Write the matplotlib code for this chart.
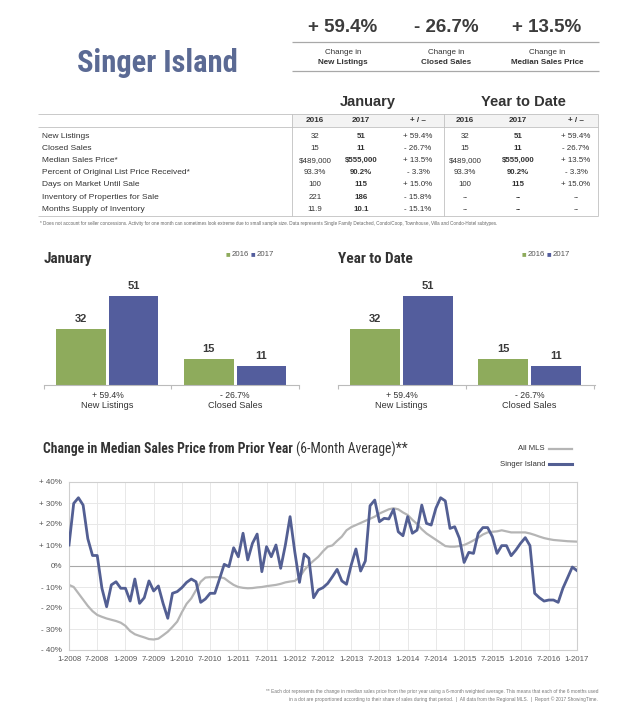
import matplotlib
matplotlib.use("Agg")
import matplotlib.pyplot as plt
from matplotlib.patches import Rectangle
from matplotlib import font_manager as fm

# ---------------- data ----------------
kpi_values = ["+ 59.4%", "- 26.7%", "+ 13.5%"]
kpi_labels = ["New Listings", "Closed Sales", "Median Sales Price"]

row_labels = ["New Listings", "Closed Sales", "Median Sales Price*",
              "Percent of Original List Price Received*", "Days on Market Until Sale",
              "Inventory of Properties for Sale", "Months Supply of Inventory"]
col_headers = ["2016", "2017", "+ / \u2013", "2016", "2017", "+ / \u2013"]
table_rows = [
    ["32", "51", "+ 59.4%", "32", "51", "+ 59.4%"],
    ["15", "11", "- 26.7%", "15", "11", "- 26.7%"],
    ["$489,000", "$555,000", "+ 13.5%", "$489,000", "$555,000", "+ 13.5%"],
    ["93.3%", "90.2%", "- 3.3%", "93.3%", "90.2%", "- 3.3%"],
    ["100", "115", "+ 15.0%", "100", "115", "+ 15.0%"],
    ["221", "186", "- 15.8%", "--", "--", "--"],
    ["11.9", "10.1", "- 15.1%", "--", "--", "--"],
]

bar_categories = ["New Listings", "Closed Sales"]
bar_changes = ["+ 59.4%", "- 26.7%"]
jan_2016 = [32, 15]
jan_2017 = [51, 11]
ytd_2016 = [32, 15]
ytd_2017 = [51, 11]

singer_island = [10, 29.8, 32.5, 29, 13, 5, 5, -10.6, -19.4, -9, -7.5, -10.6,
                 -10.6, -16.7, -6.2, -17.8, -15.1, -7.1, -11.9, -9.5, -17.8, -24.9, -13, -12.2,
                 -10.3, -7.8, -6.2, -7.5, -17.3, -15.7, -13, -13, -6.2, 0.8, -0.3, 8.7,
                 4.4, 15.6, 2.9, 10.8, 15.2, -2.7, 9.2, 4.4, 10, -1.1, 10, 23.5,
                 6.8, -7.8, 5.7, 3.7, -15.1, -11.4, -10.3, -8.3, -5.1, -1.6, -7.1, -8.7,
                 0.5, 8.1, -2.4, 2.4, 28.7, 31.4, 21.1, 22.7, 22.4, 27, 16.3, 14.4,
                 23.5, 15.6, 17.1, 29, 20.3, 19.5, 27.5, 32.5, 31, 17.9, 18.7, 13.2,
                 1.7, 6.5, 6, 15.6, 18.3, 18.3, 14, 6, 9.7, 9.7, 4.9, 7.6,
                 10.8, 13.5, 9.7, -13, -15.1, -16.7, -16.2, -16.2, -17.3, -10.6, -5.6, -0.5,
                 -2.2]
all_mls = [-9, -10, -13, -16, -19, -21.5, -23.3, -24.2, -25, -25.6, -26.2, -27,
           -28.5, -31, -32.5, -33.3, -34, -34.8, -35, -34.6, -33, -31.3, -29, -26.5,
           -22, -18, -15.4, -11.5, -7.5, -5.5, -5.3, -5.3, -5.3, -5.8, -7.5, -9,
           -10, -10.4, -10.6, -10.5, -10.2, -10, -9.6, -9.3, -9, -8.5, -7.8, -7.4,
           -7.1, -5.5, -2, 0.5, 2.5, 4.4, 7, 9.2, 9.8, 12, 14, 17,
           18.5, 19.5, 20.5, 21.5, 22.5, 23.5, 25, 26, 27, 27.5, 27, 25.5,
           24.3, 22, 20, 17.5, 15.5, 14, 12.5, 11, 9.5, 9.2, 9.2, 9.5,
           10, 11, 12.2, 13.5, 15, 16, 16.3, 16.5, 17, 16.5, 16, 16,
           16, 16, 15.5, 14.8, 14, 13.3, 12.8, 12.4, 12.2, 12, 11.8, 11.7,
           11.6]
x_tick_labels = ["1-2008", "7-2008", "1-2009", "7-2009", "1-2010", "7-2010", "1-2011",
                 "7-2011", "1-2012", "7-2012", "1-2013", "7-2013", "1-2014", "7-2014",
                 "1-2015", "7-2015", "1-2016", "7-2016", "1-2017"]
y_tick_values = [-40, -30, -20, -10, 0, 10, 20, 30, 40]
y_tick_labels = ["- 40%", "- 30%", "- 20%", "- 10%", "0%", "+ 10%", "+ 20%", "+ 30%", "+ 40%"]

# ---------------- fonts ----------------
W, H = 639, 718
SANS = ["Liberation Sans", "DejaVu Sans"]
plt.rcParams["font.family"] = SANS


def find_condensed(bold):
    prefs = ["liberation sans narrow", "roboto condensed", "dejavu sans condensed",
             "open sans condensed", "noto sans condensed", "arial narrow"]
    cands = []
    for f in fm.fontManager.ttflist:
        name = f.name.lower()
        fname = f.fname.lower()
        is_cond = ("narrow" in name or "condensed" in name or "narrow" in fname
                   or "condensed" in fname or str(f.stretch) in ("condensed", "semi-condensed"))
        if not is_cond:
            continue
        w = f.weight if isinstance(f.weight, int) else (700 if "bold" in str(f.weight) else 400)
        is_bold = w >= 600 or "bold" in fname
        if is_bold != bold:
            continue
        if f.style != "normal" or "italic" in fname or "oblique" in fname:
            continue
        rank = len(prefs)
        for i, p in enumerate(prefs):
            if p in name or p.replace(" ", "") in fname.replace("-", "").replace("_", ""):
                rank = i
                break
        cands.append((rank, f.fname))
    if cands:
        cands.sort()
        return fm.FontProperties(fname=cands[0][1])
    return None


cond_bold = find_condensed(True)
cond_reg = find_condensed(False)


def narrow_kw(bold, size):
    fp = cond_bold if bold else cond_reg
    if fp is not None:
        fp = fp.copy()
        fp.set_size(size)
        return {"fontproperties": fp}
    return {"family": SANS, "weight": "bold" if bold else "normal", "fontsize": size * 0.85}


TITLE_BLUE = "#5b6a94"
DARK = "#333333"
GREEN = "#8eab5c"
BLUE = "#535d9d"
LINE_BLUE = "#535f93"
LINE_GRAY = "#b5b5b5"

fig = plt.figure(figsize=(W / 100, H / 100), dpi=100)
fig.patch.set_facecolor("white")
bg = fig.add_axes([0, 0, 1, 1])
bg.set_xlim(0, W)
bg.set_ylim(H, 0)
bg.axis("off")


def px_rect(x0, x1, y0, y1):
    return [x0 / W, 1 - y1 / H, (x1 - x0) / W, (y1 - y0) / H]


def hline(y, x0, x1, color="#b0b0b0", lw=0.7):
    bg.plot([x0, x1], [y, y], color=color, lw=lw, solid_capstyle="butt")


def vline(x, y0, y1, color="#b0b0b0", lw=0.7):
    bg.plot([x, x], [y0, y1], color=color, lw=lw, solid_capstyle="butt")


# ---------------- header ----------------
bg.text(157, 63, "Singer Island", color=TITLE_BLUE, ha="center", va="center",
        **narrow_kw(True, 22))
kpi_x = [343, 446, 547]
for x, v, lab in zip(kpi_x, kpi_values, kpi_labels):
    bg.text(x, 27, v, fontsize=13.5, weight="bold", color="#3c3c3c", ha="center", va="center")
    bg.text(x, 52, "Change in", fontsize=5.8, color=DARK, ha="center", va="center")
    bg.text(x, 62, lab, fontsize=5.8, weight="bold", color=DARK, ha="center", va="center")
hline(42, 292, 599, color="#a8a8a8", lw=0.9)
hline(71, 292, 599, color="#a8a8a8", lw=0.9)

# ---------------- table ----------------
bg.text(368, 102, "January", fontsize=10.5, weight="bold", color=DARK, ha="center", va="center")
bg.text(523, 102, "Year to Date", fontsize=10.5, weight="bold", color=DARK, ha="center", va="center")
bg.add_patch(Rectangle((291.5, 114), 306.5, 13, facecolor="#f3f3f3", edgecolor="none"))
hline(114, 38, 598, color="#c0c0c0", lw=0.6)
hline(127, 38, 598, color="#c0c0c0", lw=0.6)
hline(216, 38, 598, color="#c0c0c0", lw=0.6)
for xv in (291.5, 443.5, 598):
    vline(xv, 114, 216, color="#c0c0c0", lw=0.6)
col_x = [315, 361, 418, 465, 518, 576]
for cx, h in zip(col_x, col_headers):
    bg.text(cx, 121, h, fontsize=5.9, weight="bold", color=DARK, ha="center", va="center")
row_y = [136, 148.3, 160.6, 172.8, 185, 197.3, 209.5]
for ry, lab, vals in zip(row_y, row_labels, table_rows):
    bg.text(42, ry, lab, fontsize=6.0, color=DARK, ha="left", va="center")
    for j, (cx, v) in enumerate(zip(col_x, vals)):
        bg.text(cx, ry, v, fontsize=5.7, color=DARK, ha="center", va="center",
                weight="bold" if j in (1, 4) else "normal")
bg.text(40, 224, "* Does not account for seller concessions. Activity for one month can sometimes look "
        "extreme due to small sample size. Data represents Single Family Detached, Condo/Coop, "
        "Townhouse, Villa and Condo-Hotel subtypes.", fontsize=3.3, color="#666666",
        ha="left", va="center")


# ---------------- bar charts ----------------
def bar_chart(x0, x1, title, v16, v17):
    base = 385
    top = 275
    ax = fig.add_axes(px_rect(x0, x1, top, base))
    ax.set_facecolor("none")
    unit = 129.0
    scale = 1.747
    ax.set_xlim(-(62.5 / unit), -(62.5 / unit) + (x1 - x0) / unit)
    ax.set_ylim(0, (base - top) / scale)
    pos = list(range(len(bar_categories)))
    off = 26.5 / unit
    bw = 50 / unit
    ax.bar([p - off for p in pos], v16, width=bw, color=GREEN)
    ax.bar([p + off for p in pos], v17, width=bw, color=BLUE)
    for p, a, b in zip(pos, v16, v17):
        ax.text(p - off, a + 3, str(a), ha="center", va="bottom", fontsize=8,
                weight="bold", color="#3a3a3a")
        ax.text(p + off, b + 3, str(b), ha="center", va="bottom", fontsize=8,
                weight="bold", color="#3a3a3a")
    for s in ("top", "right", "left"):
        ax.spines[s].set_visible(False)
    ax.spines["bottom"].set_color("#bbbbbb")
    ax.spines["bottom"].set_linewidth(0.8)
    ax.set_yticks([])
    ax.set_xticks([-0.5, 0.5, 1.5])
    ax.tick_params(axis="x", length=3, color="#bbbbbb", labelbottom=False)
    for p, ch, cat in zip(pos, bar_changes, bar_categories):
        ax.text(p, -0.10, ch, transform=ax.get_xaxis_transform(), ha="center", va="center",
                fontsize=6.2, color=DARK)
        ax.text(p, -0.19, cat, transform=ax.get_xaxis_transform(), ha="center", va="center",
                fontsize=6.6, color=DARK)
    bg.text(x0, 259, title, color=DARK, ha="left", va="center", **narrow_kw(True, 11))
    lx = x1 - 73
    bg.text(lx, 255, "\u25a0", fontsize=5.5, color=GREEN, ha="left", va="center")
    bg.text(lx + 5.5, 255, "2016", fontsize=5.6, color="#555555", ha="left", va="center")
    bg.text(lx + 25, 255, "\u25a0", fontsize=5.5, color=BLUE, ha="left", va="center")
    bg.text(lx + 30.5, 255, "2017", fontsize=5.6, color="#555555", ha="left", va="center")


bar_chart(43.5, 299, "January", jan_2016, jan_2017)
bar_chart(337.5, 595, "Year to Date", ytd_2016, ytd_2017)

# ---------------- line chart ----------------
t1 = bg.text(43, 449, "Change in Median Sales Price from Prior Year ", color=DARK,
             ha="left", va="center", **narrow_kw(True, 9.8))
fig.canvas.draw()
bb = t1.get_window_extent()
x_after = bb.x1 * W / fig.bbox.width
bg.text(x_after, 449, "(6-Month Average)**", color=DARK, ha="left", va="center",
        **narrow_kw(False, 9.8))
bg.text(545, 449, "All MLS", fontsize=5.6, color=DARK, ha="right", va="center")
bg.plot([549, 572], [449, 449], color=LINE_GRAY, lw=1.6)
bg.text(545, 464, "Singer Island", fontsize=5.6, color=DARK, ha="right", va="center")
bg.plot([549, 572], [464, 464], color=LINE_BLUE, lw=2.2)

lax = fig.add_axes(px_rect(69, 577, 482, 650))
months = list(range(len(singer_island)))
lax.set_xlim(0, len(singer_island) - 1)
lax.set_ylim(-40, 40)
lax.set_xticks(list(range(0, len(singer_island), 6)))
lax.set_xticklabels(x_tick_labels)
lax.set_yticks(y_tick_values)
lax.set_yticklabels(y_tick_labels)
lax.tick_params(axis="y", length=0, labelsize=5.8, labelcolor="#555555", pad=5)
lax.tick_params(axis="x", length=0, labelsize=5.6, labelcolor="#555555", pad=4)
lax.grid(True, color="#e8e8e8", lw=0.7)
lax.set_axisbelow(True)
for s in lax.spines.values():
    s.set_color("#cfcfcf")
    s.set_linewidth(0.8)
lax.axhline(0, color="#a8a8a8", lw=0.8, zorder=1)
lax.plot(months, all_mls, color=LINE_GRAY, lw=1.6, zorder=2)
lax.plot(months, singer_island, color=LINE_BLUE, lw=2.0, zorder=3)

bg.text(598, 691, "** Each dot represents the change in median sales price from the prior year using a "
        "6-month weighted average. This means that each of the 6 months used",
        fontsize=3.4, color="#777777", ha="right", va="center")
bg.text(598, 699, "in a dot are proportioned according to their share of sales during that period.  |  "
        "All data from the Regional MLS.  |  Report \u00a9 2017 ShowingTime.",
        fontsize=3.4, color="#777777", ha="right", va="center")

fig.savefig("out.png", dpi=100, facecolor="white")
